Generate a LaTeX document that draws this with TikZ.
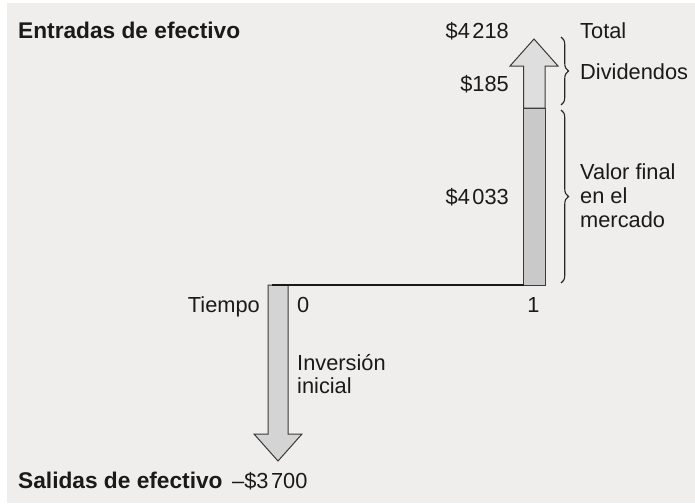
\documentclass[tikz,border=0pt]{standalone}
\usepackage{fontspec}
\setmainfont{Liberation Sans}
\usetikzlibrary{decorations.pathreplacing}
\definecolor{bgc}{HTML}{EFEEEC}
\definecolor{darkfill}{HTML}{C9C9C9}
\definecolor{lightfill}{HTML}{DEDEDE}
\definecolor{downfill}{HTML}{D4D4D4}
\definecolor{edgec}{HTML}{3A3A3A}
\definecolor{txt}{HTML}{1A1A1A}
\tikzset{
  lbl/.style={inner sep=0pt, text=txt, font=\fontsize{21.8}{24}\selectfont},
  boldlbl/.style={inner sep=0pt, text=txt, font=\fontsize{22.7}{26}\selectfont\bfseries},
  arrowshape/.style={draw=edgec, line width=1pt, line join=miter},
  timeline/.style={draw=black!90, line width=2pt},
  bracestyle/.style={draw=black!85, line width=1.1pt, decorate, decoration={brace, amplitude=7.5pt}}
}
\newcommand{\ts}{\kern2.5pt}
\begin{document}
\begin{tikzpicture}[x=1pt, y=-1pt]
\useasboundingbox (0,0) rectangle (695,503);
\fill[white] (0,0) rectangle (695,503);
\fill[bgc] (7,3) rectangle (695,503);

% coordinates
\coordinate (t0) at (272,284.5);
\coordinate (t1) at (523.5,284.5);

% down arrow (initial investment)
\draw[arrowshape, fill=downfill] (268,285) -- (288,285) -- (288,434) -- (302,434) -- (278,461) -- (254,434) -- (268,434) -- cycle;

% up arrow: lower part (final market value)
\draw[arrowshape, fill=darkfill] (523.5,108) rectangle (545,285);
% up arrow: upper part (dividends)
\draw[arrowshape, fill=lightfill] (523.5,108) -- (523.5,66) -- (510,66) -- (534,39) -- (558,66) -- (545,66) -- (545,108) -- cycle;

% time line
\draw[timeline] (t0) -- (t1);

% braces
\draw[bracestyle] (561,37) -- (561,105);
\draw[bracestyle] (561,110) -- (561,283);

% labels
\node[boldlbl, anchor=base west] (entradas) at (18,38) {Entradas de efectivo};
\node[boldlbl, anchor=base west] (salidas) at (18,488) {Salidas de efectivo};
\node[lbl, anchor=base west] (m3700) at (232,488) {–\$3\ts700};

\node[lbl, anchor=base east] (v4218) at (509,38) {\$4\ts218};
\node[lbl, anchor=base east] (v185) at (509,91) {\$185};
\node[lbl, anchor=base east] (v4033) at (509,204) {\$4\ts033};

\node[lbl, anchor=base west] (total) at (580,39) {Total};
\node[lbl, anchor=base west] (divid) at (580,79) {Dividendos};
\node[lbl, anchor=base west] (valor1) at (580,179) {Valor final};
\node[lbl, anchor=base west] (valor2) at (580,203) {en el};
\node[lbl, anchor=base west] (valor3) at (580,227) {mercado};

\node[lbl, anchor=base east] (tiempo) at (260,312) {Tiempo};
\node[lbl, anchor=base west] (zero) at (297,312) {0};
\node[lbl, anchor=base] (one) at (533.5,312) {1};

\node[lbl, anchor=base west] (inv1) at (297,370) {Inversión};
\node[lbl, anchor=base west] (inv2) at (297,393) {inicial};
\end{tikzpicture}
\end{document}
